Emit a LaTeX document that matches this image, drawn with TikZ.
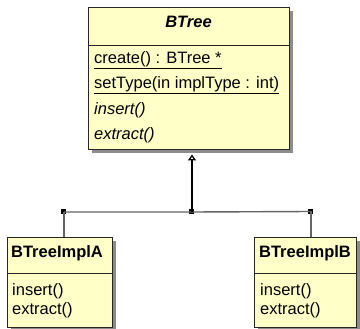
\documentclass[tikz,border=0pt]{standalone}
\usepackage{fontspec}
\setmainfont{Liberation Sans}
\usetikzlibrary{arrows.meta,shadows}
\definecolor{boxfill}{RGB}{255,255,200}
\definecolor{shadowgray}{RGB}{140,140,140}
\definecolor{linegray}{RGB}{100,100,100}
\tikzset{
  classbox/.style={draw=black!85, line width=0.9pt, fill=boxfill, rectangle, inner sep=0pt,
    drop shadow={shadow xshift=4pt, shadow yshift=-4pt, fill=shadowgray, opacity=1}},
  sep/.style={draw=black!85, line width=0.8pt},
  title/.style={font=\fontsize{16.5}{18}\selectfont\bfseries, inner sep=0pt},
  member/.style={font=\fontsize{16.5}{18}\selectfont, anchor=west, inner sep=0pt},
  joint/.style={fill=black, rectangle, minimum size=5pt, inner sep=0pt},
  conn/.style={draw=linegray, line width=1.4pt},
}
\begin{document}
\begin{tikzpicture}[x=1pt,y=-1pt]
\useasboundingbox (0,0) rectangle (360,329);
% BTree
\node[classbox, minimum width=201pt, minimum height=142pt] (btree) at (188.5,78) {};
\draw[sep] (88,45) -- (289,45);
\node[title, font=\fontsize{16.5}{18}\selectfont\bfseries\itshape] (bt) at (188.5,22) {BTree};
\node[member] (m1) at (94,60) {\underline{create() : BTree *}};
\node[member] (m2) at (94,85) {\underline{setType(in implType : int)}};
\node[member, font=\fontsize{16.5}{18}\selectfont\itshape] (m3) at (94,110) {insert()};
\node[member, font=\fontsize{16.5}{18}\selectfont\itshape] (m4) at (94,135) {extract()};
% BTreeImplA
\node[classbox, minimum width=105pt, minimum height=90pt] (ba) at (59.5,282) {};
\draw[sep] (7,273) -- (112,273);
\node[title] (bat) at (57,253) {BTreeImplA};
\node[member] (a1) at (12,291) {insert()};
\node[member] (a2) at (12,310) {extract()};
% BTreeImplB
\node[classbox, minimum width=102pt, minimum height=90pt] (bb) at (305,282) {};
\draw[sep] (254,273) -- (356,273);
\node[title] (bbt) at (305,253) {BTreeImplB};
\node[member] (b1) at (260,291) {insert()};
\node[member] (b2) at (260,310) {extract()};
% connectors
\node[joint] (J) at (192,212) {};
\node[joint] (JA) at (64,212) {};
\node[joint] (JB) at (311,211.5) {};
\draw[conn] (JA.center) -- (J.center) -- (JB.center);
\draw[conn] (JA.center) -- (JA.center |- ba.north);
\draw[conn] (JB.center) -- (JB.center |- bb.north);
\draw[line width=1.3pt, -{Triangle[open, length=6pt, width=8pt]}, shorten >=5pt] (J.center) -- (J.center |- btree.south);
\end{tikzpicture}
\end{document}
